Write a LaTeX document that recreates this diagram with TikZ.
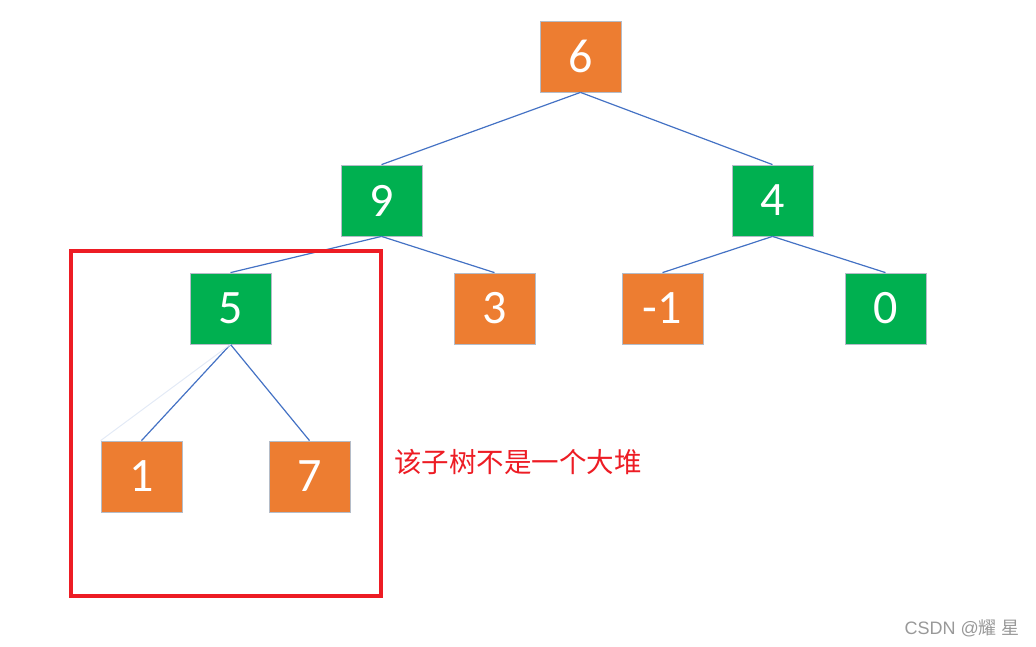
\documentclass[tikz,border=0pt]{standalone}
\usepackage{fontspec}
\setmainfont{Carlito}
\newfontfamily\cjk{Noto Sans CJK SC}
\newfontfamily\wmfont{Liberation Sans}
\definecolor{orng}{HTML}{ED7D31}
\definecolor{grn}{HTML}{00B050}
\definecolor{edg}{HTML}{4472C4}
\definecolor{redb}{HTML}{ED1C24}
\definecolor{bord}{HTML}{B4BCC8}
\begin{document}
\begin{tikzpicture}[x=1pt,y=-1pt,
  hnode/.style={draw=bord,line width=0.8pt,minimum width=81pt,minimum height=71pt,inner sep=0pt,text=white,font=\fontsize{48}{48}\selectfont},
  onode/.style={hnode,fill=orng},
  gnode/.style={hnode,fill=grn},
  edge/.style={draw=edg,line width=1.2pt}]
\useasboundingbox (0,0) rectangle (1036,646);
\node[onode] (n6) at (580.5,56.5) {6};
\node[gnode] (n9) at (381.5,200.5) {9};
\node[gnode] (n4) at (772.5,200.5) {4};
\node[gnode] (n5) at (230.5,308.5) {5};
\node[onode] (n3) at (494.5,308.5) {3};
\node[onode] (nm1) at (662.5,308.5) {-1};
\node[gnode] (n0) at (885.5,308.5) {0};
\node[onode] (n1) at (141.5,476.5) {1};
\node[onode] (n7) at (309.5,476.5) {7};
\draw[edge] (n6.south) -- (n9.north);
\draw[edge] (n6.south) -- (n4.north);
\draw[edge] (n9.south) -- (n5.north);
\draw[edge] (n9.south) -- (n3.north);
\draw[edge] (n4.south) -- (nm1.north);
\draw[edge] (n4.south) -- (n0.north);
\draw[edge] (n5.south) -- (n1.north);
\draw[edge] (n5.south) -- (n7.north);
\draw[draw=edg!15,line width=1pt] (n5.south) -- (n1.north west);
\node[draw=redb,line width=4pt,minimum width=310pt,minimum height=345pt,inner sep=0pt] (box) at (226,423.5) {};
\node[anchor=west,text=redb,inner sep=0pt,font=\cjk\fontsize{27.5}{27.5}\selectfont] (lbl) at (394,462) {该子树不是一个大堆};
\node[anchor=east,text=black!40,inner sep=0pt,font=\wmfont\fontsize{18}{18}\selectfont] (wm) at (1020,628) {CSDN @{\cjk 耀} {\cjk 星}};
\end{tikzpicture}
\end{document}
